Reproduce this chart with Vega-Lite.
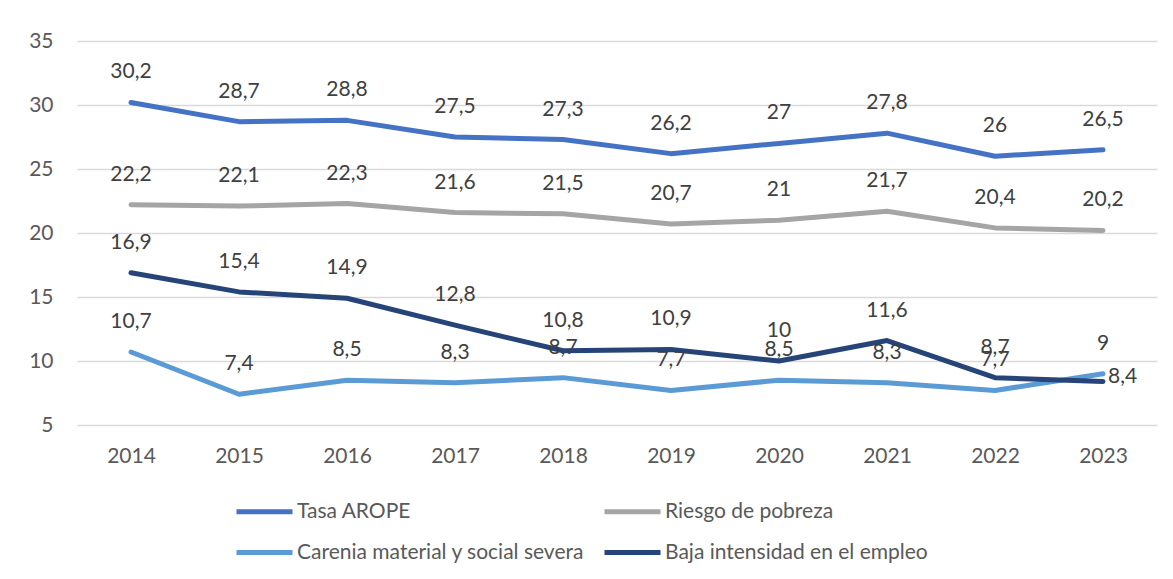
{
  "$schema": "https://vega.github.io/schema/vega-lite/v6.json",
  "width": 1080,
  "height": 384,
  "autosize": {"type": "none"},
  "padding": {"left": 77, "top": 41, "right": 16, "bottom": 154},
  "background": "white",
  "config": {
    "locale": {"number": {"decimal": ",", "thousands": ".", "grouping": [3], "currency": ["", " €"]}},
    "view": {"stroke": null},
    "font": "Lato"
  },
  "data": {"values": [
    {"year": "2014", "serie": "Tasa AROPE", "value": 30.2},
    {"year": "2015", "serie": "Tasa AROPE", "value": 28.7},
    {"year": "2016", "serie": "Tasa AROPE", "value": 28.8},
    {"year": "2017", "serie": "Tasa AROPE", "value": 27.5},
    {"year": "2018", "serie": "Tasa AROPE", "value": 27.3},
    {"year": "2019", "serie": "Tasa AROPE", "value": 26.2},
    {"year": "2020", "serie": "Tasa AROPE", "value": 27},
    {"year": "2021", "serie": "Tasa AROPE", "value": 27.8},
    {"year": "2022", "serie": "Tasa AROPE", "value": 26},
    {"year": "2023", "serie": "Tasa AROPE", "value": 26.5},
    {"year": "2014", "serie": "Riesgo de pobreza", "value": 22.2},
    {"year": "2015", "serie": "Riesgo de pobreza", "value": 22.1},
    {"year": "2016", "serie": "Riesgo de pobreza", "value": 22.3},
    {"year": "2017", "serie": "Riesgo de pobreza", "value": 21.6},
    {"year": "2018", "serie": "Riesgo de pobreza", "value": 21.5},
    {"year": "2019", "serie": "Riesgo de pobreza", "value": 20.7},
    {"year": "2020", "serie": "Riesgo de pobreza", "value": 21},
    {"year": "2021", "serie": "Riesgo de pobreza", "value": 21.7},
    {"year": "2022", "serie": "Riesgo de pobreza", "value": 20.4},
    {"year": "2023", "serie": "Riesgo de pobreza", "value": 20.2},
    {"year": "2014", "serie": "Carenia material y social severa", "value": 10.7},
    {"year": "2015", "serie": "Carenia material y social severa", "value": 7.4},
    {"year": "2016", "serie": "Carenia material y social severa", "value": 8.5},
    {"year": "2017", "serie": "Carenia material y social severa", "value": 8.3},
    {"year": "2018", "serie": "Carenia material y social severa", "value": 8.7},
    {"year": "2019", "serie": "Carenia material y social severa", "value": 7.7},
    {"year": "2020", "serie": "Carenia material y social severa", "value": 8.5},
    {"year": "2021", "serie": "Carenia material y social severa", "value": 8.3},
    {"year": "2022", "serie": "Carenia material y social severa", "value": 7.7},
    {"year": "2023", "serie": "Carenia material y social severa", "value": 9},
    {"year": "2014", "serie": "Baja intensidad en el empleo", "value": 16.9},
    {"year": "2015", "serie": "Baja intensidad en el empleo", "value": 15.4},
    {"year": "2016", "serie": "Baja intensidad en el empleo", "value": 14.9},
    {"year": "2017", "serie": "Baja intensidad en el empleo", "value": 12.8},
    {"year": "2018", "serie": "Baja intensidad en el empleo", "value": 10.8},
    {"year": "2019", "serie": "Baja intensidad en el empleo", "value": 10.9},
    {"year": "2020", "serie": "Baja intensidad en el empleo", "value": 10},
    {"year": "2021", "serie": "Baja intensidad en el empleo", "value": 11.6},
    {"year": "2022", "serie": "Baja intensidad en el empleo", "value": 8.7},
    {"year": "2023", "serie": "Baja intensidad en el empleo", "value": 8.4}
  ]},
  "encoding": {
    "x": {
      "field": "year", "type": "ordinal",
      "scale": {"type": "point", "padding": 0.5},
      "axis": {"title": null, "labelAngle": 0, "domain": false, "ticks": false, "grid": false,
               "labelFont": "Lato", "labelFontSize": 21, "labelColor": "#595959", "labelPadding": 20}
    },
    "y": {
      "field": "value", "type": "quantitative",
      "scale": {"domain": [5, 35], "nice": false, "zero": false},
      "axis": {"title": null, "values": [5, 10, 15, 20, 25, 30, 35], "domain": false, "ticks": false,
               "grid": true, "gridColor": "#D9D9D9", "gridWidth": 1.5,
               "labelFont": "Lato", "labelFontSize": 21, "labelColor": "#595959", "labelPadding": 24}
    }
  },
  "layer": [
    {
      "mark": {"type": "line", "strokeWidth": 5, "strokeCap": "round", "strokeJoin": "round"},
      "encoding": {
        "color": {
          "field": "serie", "type": "nominal",
          "scale": {
            "domain": ["Tasa AROPE", "Riesgo de pobreza", "Carenia material y social severa", "Baja intensidad en el empleo"],
            "range": ["#4472C4", "#A5A5A5", "#5B9BD5", "#264478"]
          },
          "legend": {
            "title": null, "orient": "none", "legendX": 157, "legendY": 440,
            "direction": "horizontal", "columns": 2, "columnPadding": 9, "rowPadding": -12,
            "symbolType": "stroke", "symbolSize": 3136, "symbolStrokeWidth": 5,
            "labelFont": "Lato", "labelFontSize": 21, "labelColor": "#595959", "labelOffset": 2,
            "labelLimit": 500
          }
        }
      }
    },
    {
      "transform": [{"filter": "!(datum.serie === 'Baja intensidad en el empleo' && datum.year === '2023')"}],
      "mark": {"type": "text", "baseline": "middle", "align": "center", "dy": -30, "font": "Lato", "fontSize": 21, "color": "#404040"},
      "encoding": {"text": {"field": "value", "type": "quantitative", "format": ".1~f"}}
    },
    {
      "transform": [{"filter": "datum.serie === 'Baja intensidad en el empleo' && datum.year === '2023'"}],
      "mark": {"type": "text", "baseline": "middle", "align": "left", "dx": 5, "dy": -4, "font": "Lato", "fontSize": 21, "color": "#404040"},
      "encoding": {"text": {"field": "value", "type": "quantitative", "format": ".1~f"}}
    }
  ]
}
